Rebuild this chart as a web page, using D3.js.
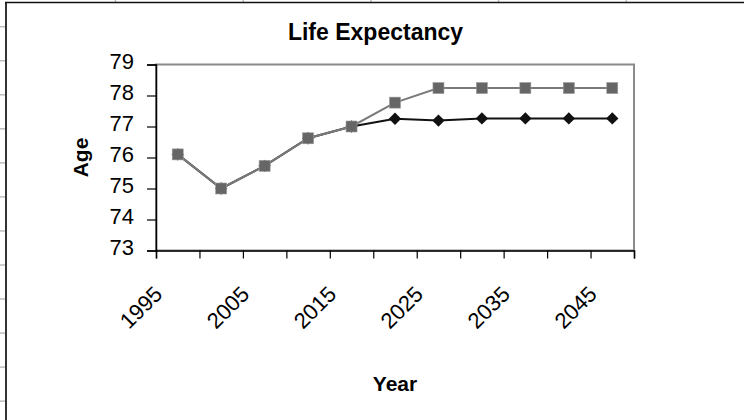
<!DOCTYPE html>
<html>
<head>
<meta charset="utf-8">
<script src="https://cdn.jsdelivr.net/npm/d3@7"></script>
<style>
  body { margin: 0; background: #fff; }
  svg { display: block; font-family: "Liberation Sans", Arial, sans-serif; }
</style>
</head>
<body>
<div id="chart"></div>
<script>
// chart data
const years = [1995, 2000, 2005, 2010, 2015, 2020, 2025, 2030, 2035, 2040, 2045];
const seriesDiamond = [76.1, 75.0, 75.73, 76.62, 77.0, 77.25, 77.19, 77.26, 77.26, 77.26, 77.26];
const seriesSquare = [76.1, 75.0, 75.73, 76.62, 77.0, 77.77, 78.24, 78.24, 78.24, 78.24, 78.24];
const yTicks = [73, 74, 75, 76, 77, 78, 79];
const xLabels = [1995, 2005, 2015, 2025, 2035, 2045];

const width = 744;
const height = 420;
const plot = { left: 156, right: 634, top: 64.5, bottom: 250.5 };

const svg = d3.select('#chart').append('svg')
  .attr('width', width)
  .attr('height', height);

// spreadsheet gridline stubs around the chart object
svg.append('g')
  .selectAll('line')
  .data(d3.range(12))
  .enter().append('line')
    .attr('x1', 0).attr('x2', 5)
    .attr('y1', i => 26.7 + i * 34.04)
    .attr('y2', i => 26.7 + i * 34.04)
    .attr('stroke', '#bdbdbd')
    .attr('stroke-width', 1.5);

svg.append('g')
  .selectAll('line')
  .data(d3.range(5))
  .enter().append('line')
    .attr('x1', i => 115.5 + i * 127.7)
    .attr('x2', i => 115.5 + i * 127.7)
    .attr('y1', 0).attr('y2', 2)
    .attr('stroke', '#bdbdbd')
    .attr('stroke-width', 1.5);

// chart object border
svg.append('line')
  .attr('x1', 6).attr('x2', 6)
  .attr('y1', 2.5).attr('y2', height)
  .attr('stroke', '#333')
  .attr('stroke-width', 2);
svg.append('line')
  .attr('x1', 5).attr('x2', width)
  .attr('y1', 2.5).attr('y2', 2.5)
  .attr('stroke', '#111')
  .attr('stroke-width', 1.5);

// scales
const x = d3.scaleBand()
  .domain(years)
  .range([plot.left, plot.right])
  .padding(0);
const xEdge = d3.scaleLinear()
  .domain([0, years.length])
  .range([plot.left, plot.right]);
const y = d3.scaleLinear()
  .domain([73, 79])
  .range([plot.bottom, plot.top]);

const cx = d => x(d) + x.bandwidth() / 2;

// plot area frame
svg.append('rect')
  .attr('x', plot.left)
  .attr('y', plot.top)
  .attr('width', plot.right - plot.left)
  .attr('height', plot.bottom - plot.top)
  .attr('fill', 'none')
  .attr('stroke', '#8a8a8a')
  .attr('stroke-width', 2);

// y axis
const yAxis = svg.append('g')
  .attr('transform', `translate(${plot.left},0)`)
  .call(d3.axisLeft(y).tickValues(yTicks).tickSize(9).tickPadding(13).tickFormat(d3.format('d')));
yAxis.select('.domain').attr('stroke', '#000').attr('stroke-width', 1.5);
yAxis.selectAll('.tick line').attr('stroke', '#000').attr('stroke-width', 1.2);
yAxis.selectAll('.tick text')
  .attr('font-size', 22)
  .attr('font-family', '"Liberation Sans", Arial, sans-serif')
  .attr('fill', '#000')
  .attr('dy', '0.2em');

// x axis: ticks between categories
const xAxis = svg.append('g')
  .attr('transform', `translate(0,${plot.bottom})`)
  .call(d3.axisBottom(xEdge).tickValues(d3.range(years.length + 1)).tickSize(8).tickFormat(''));
xAxis.select('.domain').attr('stroke', '#000').attr('stroke-width', 1.5);
xAxis.selectAll('.tick line').attr('stroke', '#000').attr('stroke-width', 1.2);

// rotated category labels
svg.append('g')
  .selectAll('text')
  .data(xLabels)
  .enter().append('text')
    .attr('transform', d => `translate(${cx(d) - 14},${plot.bottom + 45}) rotate(-45)`)
    .attr('text-anchor', 'end')
    .attr('font-size', 22)
    .attr('fill', '#000')
    .text(d => d);

// lines
const line = d3.line()
  .x((d, i) => cx(years[i]))
  .y(d => y(d));

svg.append('path')
  .datum(seriesDiamond)
  .attr('d', line)
  .attr('fill', 'none')
  .attr('stroke', '#111')
  .attr('stroke-width', 2);

svg.append('g')
  .selectAll('path')
  .data(seriesDiamond)
  .enter().append('path')
    .attr('transform', (d, i) => `translate(${cx(years[i])},${y(d)}) rotate(45)`)
    .attr('d', d3.symbol(d3.symbolSquare, 76))
    .attr('fill', '#111');

svg.append('path')
  .datum(seriesSquare)
  .attr('d', line)
  .attr('fill', 'none')
  .attr('stroke', '#7a7a7a')
  .attr('stroke-width', 2);

svg.append('g')
  .selectAll('rect')
  .data(seriesSquare)
  .enter().append('rect')
    .attr('x', (d, i) => cx(years[i]) - 5.5)
    .attr('y', d => y(d) - 5.5)
    .attr('width', 11)
    .attr('height', 11)
    .attr('fill', '#666')
    .attr('stroke', '#9a9a9a')
    .attr('stroke-width', 0.6);

// titles
svg.append('text')
  .attr('x', 375.5)
  .attr('y', 40)
  .attr('text-anchor', 'middle')
  .attr('font-size', 23)
  .attr('font-weight', 'bold')
  .text('Life Expectancy');

svg.append('text')
  .attr('transform', `translate(88,${(plot.top + plot.bottom) / 2}) rotate(-90)`)
  .attr('text-anchor', 'middle')
  .attr('font-size', 21)
  .attr('font-weight', 'bold')
  .text('Age');

svg.append('text')
  .attr('x', (plot.left + plot.right) / 2)
  .attr('y', 391)
  .attr('text-anchor', 'middle')
  .attr('font-size', 21)
  .attr('font-weight', 'bold')
  .text('Year');
</script>
</body>
</html>
